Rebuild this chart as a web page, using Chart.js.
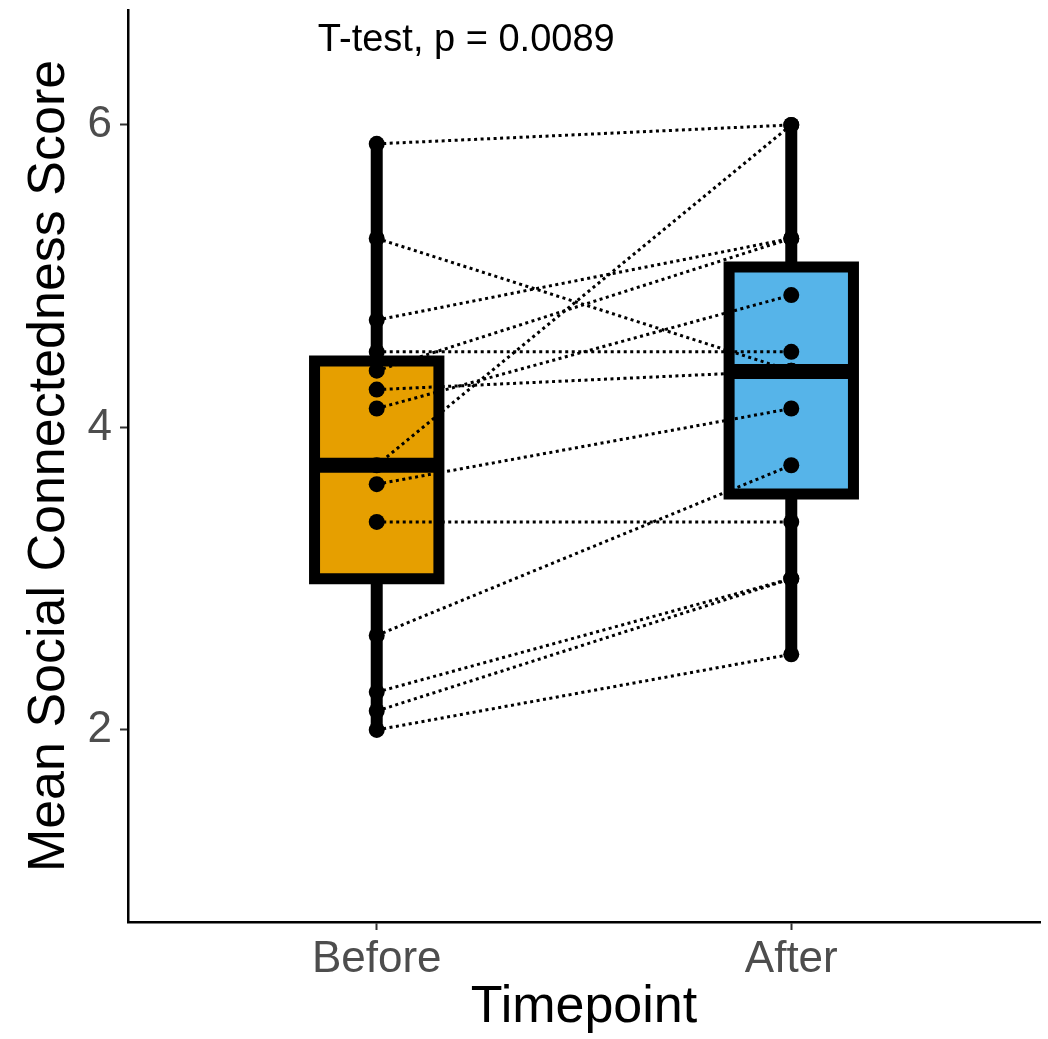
<!DOCTYPE html>
<html>
<head>
<meta charset="utf-8">
<script src="https://cdn.jsdelivr.net/npm/chart.js@4.4.1/dist/chart.umd.min.js"></script>
<style>
  html, body { margin: 0; padding: 0; background: #fff; }
  canvas { display: block; }
</style>
</head>
<body>
<canvas id="pairedBox" width="1048" height="1039"></canvas>
<script>
// ===== Data =====
const categories = ["Before", "After"];
// paired subject scores, same index = same subject
const beforeScores = [5.875, 5.25, 4.71, 4.5, 4.375, 4.25, 4.125, 3.75, 3.625, 3.375, 2.625, 2.25, 2.125, 2.0];
const afterScores  = [6.0, 4.375, 5.25, 4.5, 5.25, 4.375, 4.875, 6.0, 4.125, 3.375, 3.75, 3.0, 3.0, 2.5];

// box summary per timepoint
const boxMin    = [2.0, 2.5];
const boxQ1     = [3.0, 3.56];
const boxMedian = [3.75, 4.37];
const boxQ3     = [4.44, 5.06];
const boxMax    = [5.875, 6.0];
const boxColors = ["#E69F00", "#56B4E9"];

const yTicks = [2, 4, 6];
const testLabel = "T-test, p = 0.0089";

// ===== Helpers =====
const BOX_HALF = 0.15;   // half box width in category units
const FONT = "'Liberation Sans', Arial, Helvetica, sans-serif";
Chart.defaults.font.family = FONT;

const datasets = [];

// whiskers (drawn under the boxes)
categories.forEach((c, i) => {
  datasets.push({
    type: "line",
    data: [{ x: i + 1, y: boxMin[i] }, { x: i + 1, y: boxMax[i] }],
    borderColor: "#000",
    borderWidth: 12,
    borderCapStyle: "butt",
    pointRadius: 0,
    order: 7
  });
});

// box fills: top edge filled down to bottom edge
categories.forEach((c, i) => {
  const x0 = i + 1 - BOX_HALF, x1 = i + 1 + BOX_HALF;
  datasets.push({
    type: "line",
    data: [{ x: x0, y: boxQ3[i] }, { x: x1, y: boxQ3[i] }],
    borderWidth: 0,
    pointRadius: 0,
    backgroundColor: boxColors[i],
    fill: "+1",
    order: 6
  });
  datasets.push({
    type: "line",
    data: [{ x: x0, y: boxQ1[i] }, { x: x1, y: boxQ1[i] }],
    borderWidth: 0,
    pointRadius: 0,
    fill: false,
    order: 6
  });
});

// box outlines + medians
categories.forEach((c, i) => {
  const x0 = i + 1 - BOX_HALF, x1 = i + 1 + BOX_HALF;
  datasets.push({
    type: "line",
    data: [
      { x: x0, y: boxQ1[i] }, { x: x1, y: boxQ1[i] },
      { x: x1, y: boxQ3[i] }, { x: x0, y: boxQ3[i] },
      { x: x0, y: boxQ1[i] }
    ],
    borderColor: "#000",
    borderWidth: 11,
    borderJoinStyle: "miter",
    borderCapStyle: "square",
    pointRadius: 0,
    order: 5
  });
  datasets.push({
    type: "line",
    data: [{ x: x0, y: boxMedian[i] }, { x: x1, y: boxMedian[i] }],
    borderColor: "#000",
    borderWidth: 15,
    borderCapStyle: "butt",
    pointRadius: 0,
    order: 4
  });
});

// dotted lines linking each subject
beforeScores.forEach((b, k) => {
  datasets.push({
    type: "line",
    data: [{ x: 1, y: b }, { x: 2, y: afterScores[k] }],
    borderColor: "#000",
    borderWidth: 3,
    borderDash: [3, 3.5],
    pointRadius: 0,
    order: 3
  });
});

// subject points
datasets.push({
  type: "line",
  showLine: false,
  data: beforeScores.map(v => ({ x: 1, y: v })).concat(afterScores.map(v => ({ x: 2, y: v }))),
  pointRadius: 8,
  pointBackgroundColor: "#000",
  pointBorderWidth: 0,
  order: 1
});

// p-value label
const testLabelPlugin = {
  id: "testLabel",
  afterDatasetsDraw(chart) {
    const { ctx, scales: { x, y } } = chart;
    ctx.save();
    ctx.font = "38px " + FONT;
    ctx.fillStyle = "#000";
    ctx.textAlign = "left";
    ctx.textBaseline = "middle";
    ctx.fillText(testLabel, x.getPixelForValue(0.858), y.getPixelForValue(6.56));
    ctx.restore();
  }
};

new Chart(document.getElementById("pairedBox"), {
  type: "line",
  data: { datasets },
  plugins: [testLabelPlugin],
  options: {
    responsive: false,
    animation: false,
    layout: { padding: { top: 10, right: 8, left: 0, bottom: 0 } },
    plugins: { legend: { display: false }, tooltip: { enabled: false } },
    scales: {
      x: {
        type: "linear",
        min: 0.4,
        max: 2.6,
        afterBuildTicks: axis => { axis.ticks = categories.map((c, i) => ({ value: i + 1 })); },
        afterFit: axis => { axis.height = 117; axis.paddingLeft = 0; axis.paddingRight = 0; },
        ticks: {
          callback: v => categories[v - 1],
          font: { size: 44 },
          color: "#4D4D4D",
          padding: 3,
          maxRotation: 0
        },
        grid: { drawOnChartArea: false, drawTicks: true, tickLength: 8, tickColor: "#333", tickWidth: 2 },
        border: { display: true, color: "#000", width: 2.5 },
        title: { display: true, text: "Timepoint", font: { size: 52 }, color: "#000", padding: { top: 0, bottom: 0 } }
      },
      y: {
        type: "linear",
        min: 0.73,
        max: 6.76,
        afterBuildTicks: axis => { axis.ticks = yTicks.map(v => ({ value: v })); },
        afterFit: axis => { axis.width = 128; axis.paddingTop = 0; axis.paddingBottom = 0; },
        ticks: { font: { size: 44 }, color: "#4D4D4D", padding: 8 },
        grid: { drawOnChartArea: false, drawTicks: true, tickLength: 8, tickColor: "#333", tickWidth: 2 },
        border: { display: true, color: "#000", width: 2.5 },
        title: { display: true, text: "Mean Social Connectedness Score", font: { size: 52 }, color: "#000", padding: { top: 18, bottom: 0 } }
      }
    }
  }
});
</script>
</body>
</html>
